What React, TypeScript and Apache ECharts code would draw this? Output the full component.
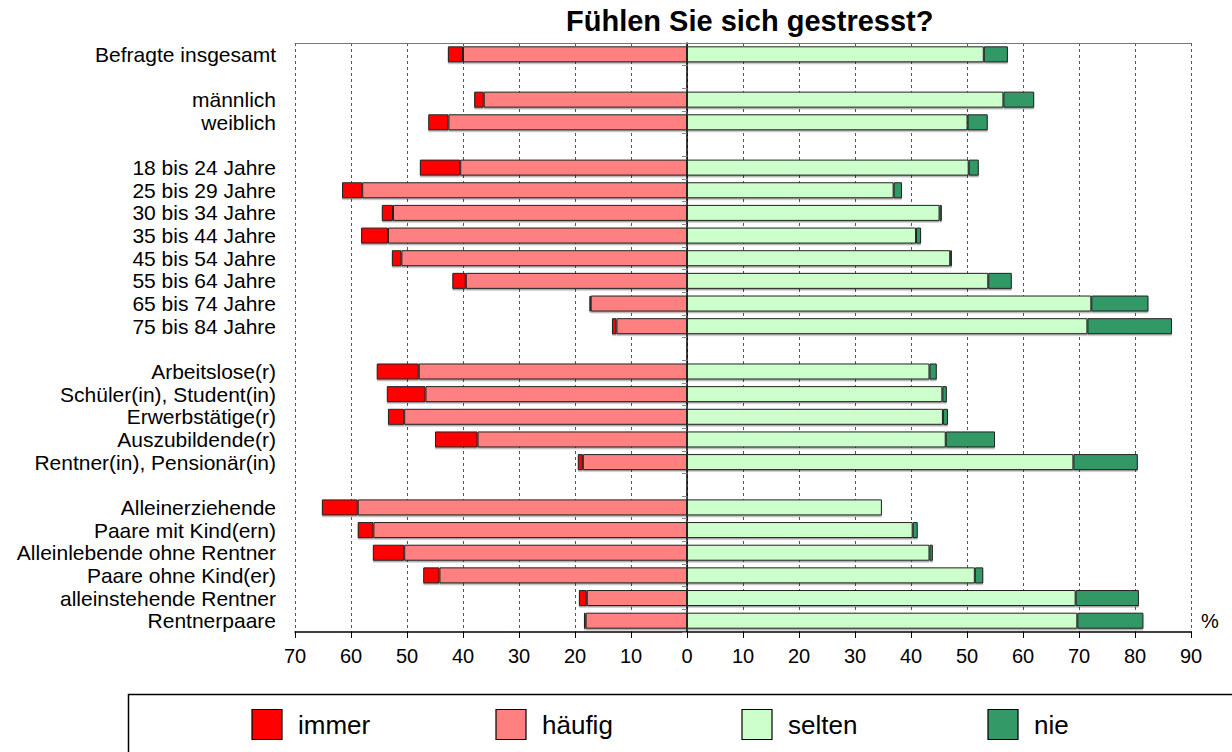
import React, { useEffect, useRef } from "react";
import * as echarts from "echarts";

const categories = [
  "Befragte insgesamt", "",
  "männlich", "weiblich", "",
  "18 bis 24 Jahre", "25 bis 29 Jahre", "30 bis 34 Jahre", "35 bis 44 Jahre",
  "45 bis 54 Jahre", "55 bis 64 Jahre", "65 bis 74 Jahre", "75 bis 84 Jahre", "",
  "Arbeitslose(r)", "Schüler(in), Student(in)", "Erwerbstätige(r)", "Auszubildende(r)",
  "Rentner(in), Pensionär(in)", "",
  "Alleinerziehende", "Paare mit Kind(ern)", "Alleinlebende ohne Rentner",
  "Paare ohne Kind(er)", "alleinstehende Rentner", "Rentnerpaare",
];

const immer = [2.7, null, 1.7, 3.6, null, 7.2, 3.6, 2.0, 4.8, 1.7, 2.4, 0.2, 0.8, null, 7.5, 6.9, 2.9, 7.6, 0.9, null, 6.4, 2.8, 5.6, 2.9, 1.4, 0.3];
const haeufig = [40.0, null, 36.3, 42.6, null, 40.5, 58.0, 52.5, 53.4, 51.0, 39.5, 17.2, 12.6, null, 47.9, 46.7, 50.5, 37.4, 18.6, null, 58.8, 56.0, 50.5, 44.2, 17.9, 18.1];
const selten = [53.0, null, 56.5, 50.1, null, 50.3, 36.9, 45.1, 40.9, 47.0, 53.8, 72.2, 71.5, null, 43.3, 45.6, 45.7, 46.2, 69.0, null, 34.8, 40.3, 43.3, 51.4, 69.4, 69.7];
const nie = [4.3, null, 5.5, 3.6, null, 1.8, 1.5, 0.4, 0.9, 0.3, 4.2, 10.2, 15.1, null, 1.3, 0.8, 0.9, 8.8, 11.5, null, null, 0.9, 0.6, 1.5, 11.3, 11.8];

const seriesNames = ["immer", "häufig", "selten", "nie"];
const seriesColors = ["#FF0000", "#FF8080", "#CCFFCC", "#339966"];

const xMin = -70;
const xMax = 90;
const xInterval = 10;

const FONT = "'Liberation Sans', Arial, Helvetica, sans-serif";

export default function App() {
  const ref = useRef<HTMLDivElement>(null);

  useEffect(() => {
    if (!ref.current) return;
    const chart = echarts.init(ref.current, null, { renderer: "svg" });

    const neg = (arr: (number | null)[]) => arr.map((v) => (v == null ? null : -v));

    const barStyle = (color: string) => ({
      color,
      borderColor: "#222",
      borderWidth: 1,
      shadowColor: "rgba(0,0,0,0.35)",
      shadowBlur: 1,
      shadowOffsetY: 1.5,
    });

    const legendX = [252, 496, 742, 988];
    const legendGraphics: any[] = [];
    seriesNames.forEach((name, i) => {
      legendGraphics.push({
        type: "rect",
        shape: { x: legendX[i], y: 709.5, width: 30, height: 30 },
        style: { fill: seriesColors[i], stroke: "#000", lineWidth: 1.2 },
      });
      legendGraphics.push({
        type: "text",
        x: legendX[i] + 46,
        y: 725,
        style: {
          text: name,
          fontSize: 26,
          fontFamily: FONT,
          fill: "#000",
          verticalAlign: "middle",
          align: "left",
        },
      });
    });

    const option: any = {
      animation: false,
      backgroundColor: "#fff",
      title: {
        text: "Fühlen Sie sich gestresst?",
        left: 566,
        top: 6,
        padding: 0,
        textStyle: { fontSize: 29, fontWeight: "bold", fontFamily: FONT, color: "#000" },
      },
      grid: { left: 295, right: 41, top: 43, bottom: 120, containLabel: false },
      xAxis: [
        {
          type: "value",
          position: "bottom",
          min: xMin,
          max: xMax,
          interval: xInterval,
          axisLine: { show: true, lineStyle: { color: "#000", width: 1.5 } },
          axisTick: { show: true, length: 6, lineStyle: { color: "#000" } },
          axisLabel: {
            fontSize: 20,
            fontFamily: FONT,
            color: "#000",
            margin: 14,
            formatter: (v: number) => String(Math.abs(v)),
          },
          splitLine: { show: true, lineStyle: { color: "#555", type: [3, 3], width: 1 } },
        },
        {
          type: "value",
          position: "top",
          min: xMin,
          max: xMax,
          interval: xInterval,
          axisLine: { show: true, lineStyle: { color: "#777", width: 1 } },
          axisTick: { show: false },
          axisLabel: { show: false },
          splitLine: { show: false },
        },
      ],
      yAxis: [
        {
          type: "category",
          data: categories,
          inverse: true,
          position: "left",
          axisLine: { show: false, onZero: false },
          axisTick: { show: false },
          axisLabel: { fontSize: 21, fontFamily: FONT, color: "#000", margin: 19, interval: 0 },
          splitLine: { show: false },
        },
        {
          type: "category",
          data: categories,
          inverse: true,
          position: "left",
          axisLine: { show: true, onZero: true, lineStyle: { color: "#000", width: 1.5 } },
          axisTick: { show: true, length: 5, lineStyle: { color: "#888" } },
          axisLabel: { show: false },
          splitLine: { show: false },
        },
      ],
      series: [
        {
          name: "häufig",
          type: "bar",
          stack: "total",
          barWidth: 16,
          data: neg(haeufig),
          itemStyle: barStyle(seriesColors[1]),
        },
        {
          name: "immer",
          type: "bar",
          stack: "total",
          barWidth: 16,
          data: neg(immer),
          itemStyle: barStyle(seriesColors[0]),
        },
        {
          name: "selten",
          type: "bar",
          stack: "total",
          barWidth: 16,
          data: selten,
          itemStyle: barStyle(seriesColors[2]),
        },
        {
          name: "nie",
          type: "bar",
          stack: "total",
          barWidth: 16,
          data: nie,
          itemStyle: barStyle(seriesColors[3]),
        },
      ],
      graphic: [
        {
          type: "text",
          x: 1210,
          y: 621,
          style: {
            text: "%",
            fontSize: 20,
            fontFamily: FONT,
            fill: "#000",
            align: "center",
            verticalAlign: "middle",
          },
        },
        {
          type: "rect",
          shape: { x: 128.5, y: 694.5, width: 1200, height: 120 },
          style: { fill: "none", stroke: "#000", lineWidth: 1.5 },
        },
        ...legendGraphics,
      ],
    };

    chart.setOption(option);
    return () => chart.dispose();
  }, []);

  return (
    <div
      ref={ref}
      style={{ position: "absolute", left: 0, top: 0, width: 1232, height: 752, background: "#fff" }}
    />
  );
}
